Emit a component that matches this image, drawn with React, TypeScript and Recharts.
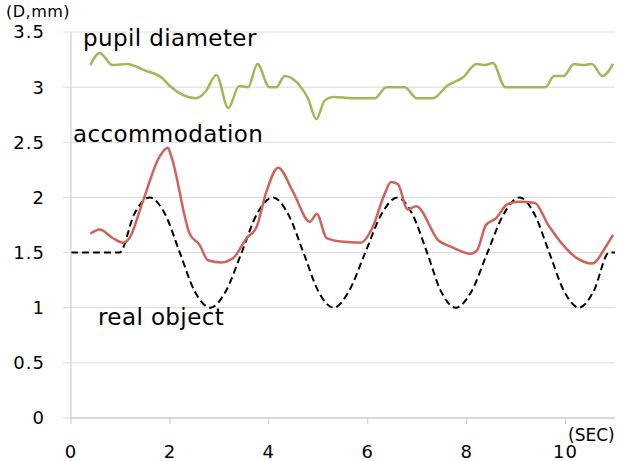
import React from 'react';
import { LineChart, Line, XAxis, YAxis, CartesianGrid } from 'recharts';

// ---- data ----
const pupilTime = [0.39, 0.58, 0.84, 1.12, 1.5, 1.85, 2.0, 2.53, 2.72, 2.94, 3.18, 3.4, 3.58, 3.77, 4.01, 4.15, 4.32, 4.63, 4.79, 4.96, 5.13, 5.3, 5.7, 5.98, 6.14, 6.38, 6.58, 6.75, 6.99, 7.16, 7.32, 7.6, 7.93, 8.2, 8.37, 8.53, 8.78, 9.01, 9.48, 9.59, 9.77, 9.96, 10.17, 10.36, 10.53, 10.75, 10.96];
const pupilDiameter = [3.2, 3.31, 3.2, 3.21, 3.15, 3.08, 3.01, 2.9, 2.96, 3.11, 2.81, 3.01, 3.0, 3.21, 3.0, 3.0, 3.1, 3.01, 2.9, 2.71, 2.88, 2.91, 2.9, 2.9, 2.9, 3.0, 3.0, 3.0, 2.9, 2.9, 2.9, 3.01, 3.09, 3.21, 3.2, 3.22, 3.0, 3.0, 3.0, 3.0, 3.1, 3.1, 3.21, 3.2, 3.21, 3.1, 3.21];

const accTime = [0.39, 0.58, 0.85, 1.05, 1.18, 1.45, 1.79, 1.96, 2.03, 2.4, 2.6, 2.77, 3.04, 3.28, 3.55, 3.75, 3.95, 4.19, 4.49, 4.83, 4.97, 5.17, 5.45, 5.86, 6.09, 6.34, 6.47, 6.61, 6.81, 6.98, 7.43, 7.7, 8.08, 8.21, 8.39, 8.59, 8.83, 9.07, 9.38, 9.65, 10.23, 10.54, 10.81, 10.96];
const accommodation = [1.67, 1.71, 1.63, 1.59, 1.63, 1.96, 2.37, 2.45, 2.37, 1.67, 1.57, 1.43, 1.41, 1.45, 1.63, 1.73, 2.05, 2.27, 2.05, 1.78, 1.85, 1.63, 1.6, 1.59, 1.72, 2.03, 2.14, 2.12, 1.89, 1.92, 1.61, 1.55, 1.49, 1.52, 1.75, 1.81, 1.94, 1.96, 1.95, 1.75, 1.45, 1.4, 1.55, 1.66];

const objTime = [0, 0.98, 1.28, 1.59, 1.9, 2.2, 2.5, 2.82, 3.13, 3.45, 3.76, 4.08, 4.39, 4.7, 5.0, 5.31, 5.62, 5.95, 6.28, 6.6, 6.9, 7.2, 7.48, 7.78, 8.1, 8.42, 8.75, 9.07, 9.37, 9.67, 9.97, 10.27, 10.57, 10.88, 11];
const realObject = [1.5, 1.5, 1.85, 2.0, 1.85, 1.5, 1.15, 1.0, 1.15, 1.5, 1.85, 2.0, 1.85, 1.5, 1.15, 1.0, 1.15, 1.5, 1.85, 2.0, 1.85, 1.5, 1.15, 1.0, 1.15, 1.5, 1.85, 2.0, 1.85, 1.5, 1.15, 1.0, 1.15, 1.5, 1.5];

const xTicks = [0, 2, 4, 6, 8, 10];
const yTicks = [0, 0.5, 1, 1.5, 2, 2.5, 3, 3.5];

const pupilData = pupilTime.map((t, i) => ({ t, v: pupilDiameter[i] }));
const accData = accTime.map((t, i) => ({ t, v: accommodation[i] }));
const objData = objTime.map((t, i) => ({ t, v: realObject[i] }));

const FONT = '"DejaVu Sans", "Noto Sans", sans-serif';

const YTick = (props: any) => {
  const { x, y, payload } = props;
  return (
    <text x={x} y={y} dy="0.355em" textAnchor="end" fontSize={18} fill="#000" fontFamily={FONT} style={{ letterSpacing: '1px' }}>
      {payload.value}
    </text>
  );
};

const XTick = (props: any) => {
  const { x, y, payload } = props;
  return (
    <text x={x} y={y} dy="0.71em" textAnchor="middle" fontSize={18} fill="#000" fontFamily={FONT} style={{ letterSpacing: '1px' }}>
      {payload.value}
    </text>
  );
};

export default function App() {
  return (
    <div style={{ position: 'absolute', left: 0, top: 0, width: 617, height: 461, background: '#fff' }}>
      <LineChart width={617} height={461} margin={{ top: 32, right: 2, bottom: 0, left: 0 }}>
        <CartesianGrid vertical={false} stroke="#D9D9D9" strokeWidth={1} />
        <XAxis
          dataKey="t"
          type="number"
          domain={[0, 11]}
          ticks={xTicks}
          allowDataOverflow
          height={43}
          tickSize={6}
          tickMargin={21}
          axisLine={{ stroke: '#C8C8C8' }}
          tickLine={{ stroke: '#C8C8C8' }}
          tick={<XTick />}
        />
        <YAxis
          dataKey="v"
          type="number"
          domain={[0, 3.5]}
          ticks={yTicks}
          width={71}
          tickSize={8}
          tickMargin={18}
          axisLine={{ stroke: '#C8C8C8' }}
          tickLine={{ stroke: '#D9D9D9' }}
          tick={<YTick />}
        />
        <Line data={objData} dataKey="v" type="monotone" stroke="#000" strokeWidth={2} strokeDasharray="7 4" dot={false} isAnimationActive={false} />
        <Line data={accData} dataKey="v" type="monotone" stroke="#D0625A" strokeWidth={2.5} dot={false} isAnimationActive={false} />
        <Line data={pupilData} dataKey="v" type="monotone" stroke="#9BBB59" strokeWidth={2.5} dot={false} isAnimationActive={false} />
      </LineChart>
      <svg width={617} height={461} style={{ position: 'absolute', left: 0, top: 0, pointerEvents: 'none' }}>
        <g fontFamily={FONT} fill="#000">
          <text x={6} y={17} fontSize={16} style={{ letterSpacing: '0.5px' }}>(D,mm)</text>
          <text x={83} y={46} fontSize={23} style={{ letterSpacing: '0.4px' }}>pupil diameter</text>
          <text x={73} y={141.5} fontSize={23} style={{ letterSpacing: '0.4px' }}>accommodation</text>
          <text x={98} y={325} fontSize={23} style={{ letterSpacing: '0.4px' }}>real object</text>
          <text x={568} y={441} fontSize={17}>(SEC)</text>
        </g>
      </svg>
    </div>
  );
}
